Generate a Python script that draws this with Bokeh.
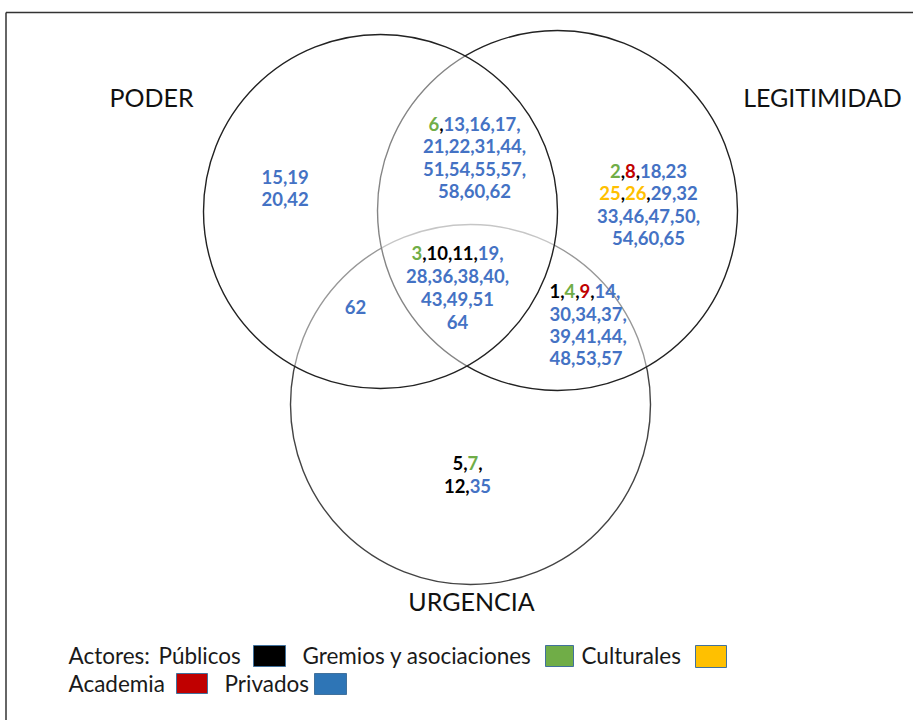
from bokeh.plotting import figure
from bokeh.models import Range1d
from bokeh.embed import file_html
from bokeh.resources import INLINE
from bokeh.core.properties import value

# ---------------- data ----------------
set_names = ["PODER", "LEGITIMIDAD", "URGENCIA"]

# category codes: Pu = Públicos, G = Gremios y asociaciones, C = Culturales, A = Academia, Pr = Privados
poder_lines = ["15,19", "20,42"]
poder_cats = ["Pr", "Pr", "Pr", "Pr"]

pl_lines = ["6,13,16,17,", "21,22,31,44,", "51,54,55,57,", "58,60,62"]
pl_cats = ["G", "Pr", "Pr", "Pr", "Pr", "Pr", "Pr", "Pr", "Pr", "Pr", "Pr", "Pr", "Pr", "Pr", "Pr"]

legit_lines = ["2,8,18,23", "25,26,29,32", "33,46,47,50,", "54,60,65"]
legit_cats = ["G", "A", "Pr", "Pr", "C", "C", "Pr", "Pr", "Pr", "Pr", "Pr", "Pr", "Pr", "Pr", "Pr"]

center_lines = ["3,10,11,19,", "28,36,38,40,", "43,49,51", "64"]
center_cats = ["G", "Pu", "Pu", "Pr", "Pr", "Pr", "Pr", "Pr", "Pr", "Pr", "Pr", "Pr"]

pu_lines = ["62"]
pu_cats = ["Pr"]

lu_lines = ["1,4,9,14,", "30,34,37,", "39,41,44,", "48,53,57"]
lu_cats = ["Pu", "G", "A", "Pr", "Pr", "Pr", "Pr", "Pr", "Pr", "Pr", "Pr", "Pr", "Pr"]

urg_lines = ["5,7,", "12,35"]
urg_cats = ["Pu", "G", "Pu", "Pr"]

legend_codes = ["Pu", "G", "C", "A", "Pr"]
legend_labels = ["Públicos", "Gremios y asociaciones", "Culturales", "Academia", "Privados"]
legend_title = "Actores:"

# ---------------- style ----------------
text_colors = {"Pu": "#000000", "G": "#70AD47", "C": "#FFC000", "A": "#C00000", "Pr": "#4472C4"}
box_colors = {"Pu": "#000000", "G": "#70AD47", "C": "#FFC000", "A": "#C00000", "Pr": "#2E75B6"}

FONT = "Lato"
NUM_SIZE = 18.5
DIGIT_W = 0.58 * NUM_SIZE
COMMA_W = 0.23 * NUM_SIZE

p = figure(width=913, height=720, x_range=Range1d(0, 913), y_range=Range1d(720, 0),
           output_backend="svg", toolbar_location=None, x_axis_type=None, y_axis_type=None,
           min_border=0)
p.outline_line_color = None
p.background_fill_color = "white"
p.border_fill_color = "white"

# frame
p.segment(x0=[5.5, 5.5], y0=[720, 12], x1=[5.5, 913], y1=[12, 12], line_color="#333333", line_width=1.5)

# circles (drawn so later white-veiled fills soften earlier outlines)
circles = {
    "URGENCIA": (470, 404, 180, "#444444"),
    "LEGITIMIDAD": (557, 210, 180, "#222222"),
    "PODER": (380, 211, 177, "#222222"),
}
for name in ["URGENCIA", "LEGITIMIDAD", "PODER"]:
    cx, cy, r, lc = circles[name]
    p.circle(x=[cx], y=[cy], radius=r, fill_color="white", fill_alpha=0.45,
             line_color=lc, line_width=1.4)

# set labels
label_pos = {"PODER": (151, 96), "LEGITIMIDAD": (822, 96), "URGENCIA": (471, 600)}
for nm in set_names:
    lx, ly = label_pos[nm]
    p.text(x=[lx], y=[ly], text=[nm], text_font=value(FONT), text_font_size="25px",
           text_align="center", text_baseline="middle", text_color="#111111")


def draw_block(lines, cats, anchor_x, ys, align):
    xs, yv, txt, cols = [], [], [], []
    k = 0
    for line, y in zip(lines, ys):
        toks = line.split(",")
        width = sum(len(t) * DIGIT_W for t in toks) + line.count(",") * COMMA_W
        x = anchor_x - width / 2 if align == "center" else anchor_x
        for i, t in enumerate(toks):
            if t == "":
                continue
            c = text_colors[cats[k]]
            xs.append(x); yv.append(y); txt.append(t); cols.append(c)
            x += len(t) * DIGIT_W
            if i < len(toks) - 1:
                cc = "#000000" if cats[k] != "Pr" else c
                xs.append(x); yv.append(y); txt.append(","); cols.append(cc)
                x += COMMA_W
            k += 1
    p.text(x=xs, y=yv, text=txt, text_color=cols, text_font=value(FONT),
           text_font_style="bold", text_font_size=f"{NUM_SIZE}px",
           text_align="left", text_baseline="middle")


draw_block(poder_lines, poder_cats, 261, [176, 198], "left")
draw_block(pl_lines, pl_cats, 474, [123, 145, 168, 190], "center")
draw_block(legit_lines, legit_cats, 648, [170, 192, 215, 237], "center")
draw_block(center_lines, center_cats, 457, [252, 275, 298, 321], "center")
draw_block(pu_lines, pu_cats, 355, [306], "center")
draw_block(lu_lines, lu_cats, 549, [290, 313, 335, 357], "left")
draw_block(urg_lines, urg_cats, 467, [462, 485], "center")

# legend
LEG_SIZE = "22.5px"
p.text(x=[68], y=[655], text=[legend_title], text_font=value(FONT), text_font_size=LEG_SIZE,
       text_align="left", text_baseline="middle", text_color="#1a1a1a")
leg_text_pos = [(158, 655), (302, 655), (581, 655), (68, 683), (224, 683)]
leg_box_pos = [(253, 285, 645, 666), (545, 573, 645, 666), (695, 726, 645, 667),
               (176, 207, 673, 693), (314, 346, 673, 694)]
for code, lab, (tx, ty), (l, r, t, b) in zip(legend_codes, legend_labels, leg_text_pos, leg_box_pos):
    p.text(x=[tx], y=[ty], text=[lab], text_font=value(FONT), text_font_size=LEG_SIZE,
           text_align="left", text_baseline="middle", text_color="#1a1a1a")
    p.quad(left=[l], right=[r], top=[t], bottom=[b], fill_color=box_colors[code],
           line_color="#41719C", line_width=1)

open("out.html", "w").write(file_html(p, INLINE))
